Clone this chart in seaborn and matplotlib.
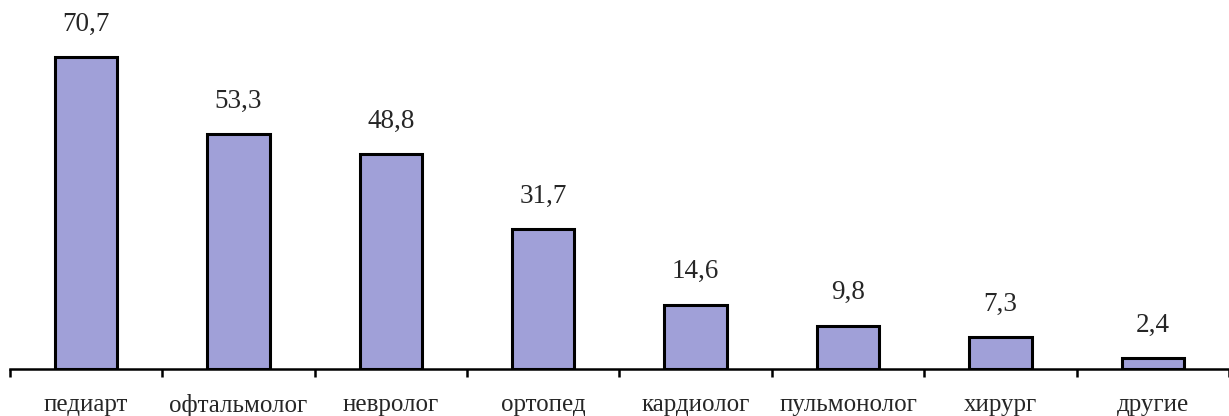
"""
Bar chart: share of specialists (values in %), recreated with seaborn.
"""

import numpy as np
import matplotlib.pyplot as plt
import seaborn as sns

# ---------------------------------------------------------------------------
# Data
# ---------------------------------------------------------------------------
categories = ["педиарт", "офтальмолог", "невролог", "ортопед",
              "кардиолог", "пульмонолог", "хирург", "другие"]
values = [70.7, 53.3, 48.8, 31.7, 14.6, 9.8, 7.3, 2.4]
value_labels = ["70,7", "53,3", "48,8", "31,7", "14,6", "9,8", "7,3", "2,4"]

BAR_COLOR = "#a0a0d8"

# ---------------------------------------------------------------------------
# Plot
# ---------------------------------------------------------------------------
sns.set_style("white")
plt.rcParams["font.family"] = ["Liberation Serif", "DejaVu Serif"]

fig = plt.figure(figsize=(12.29, 4.16), dpi=100)
ax = fig.add_axes([0.008, 0.113, 0.992, 0.848])

sns.barplot(x=categories, y=values, color=BAR_COLOR, saturation=1,
            width=0.41, edgecolor="black", linewidth=2.2, ax=ax)

# value labels above each bar
for bar, lab in zip(ax.patches, value_labels):
    ax.annotate(lab, (bar.get_x() + bar.get_width() / 2, bar.get_height()),
                xytext=(0, 19), textcoords="offset points",
                ha="center", va="baseline", fontsize=19.5)

ax.set_xlim(-0.5, 7.5)
ax.set_ylim(0, 80)

for side in ["top", "right", "left"]:
    ax.spines[side].set_visible(False)
ax.spines["bottom"].set_linewidth(1.8)
ax.spines["bottom"].set_color("black")

ax.set_yticks([])
ax.set_xticks(range(len(categories)))
ax.set_xticklabels(categories, fontsize=18)
# tick marks sit between categories, like the Excel original
ax.set_xticks(np.arange(-0.5, 8, 1), minor=True)
ax.tick_params(axis="x", which="both", bottom=True)
ax.tick_params(axis="x", which="major", length=0, pad=18)
ax.tick_params(axis="x", which="minor", length=6, width=1.8,
               direction="out", color="black")
ax.set_xlabel("")
ax.set_ylabel("")

fig.savefig("out.png", dpi=100)
